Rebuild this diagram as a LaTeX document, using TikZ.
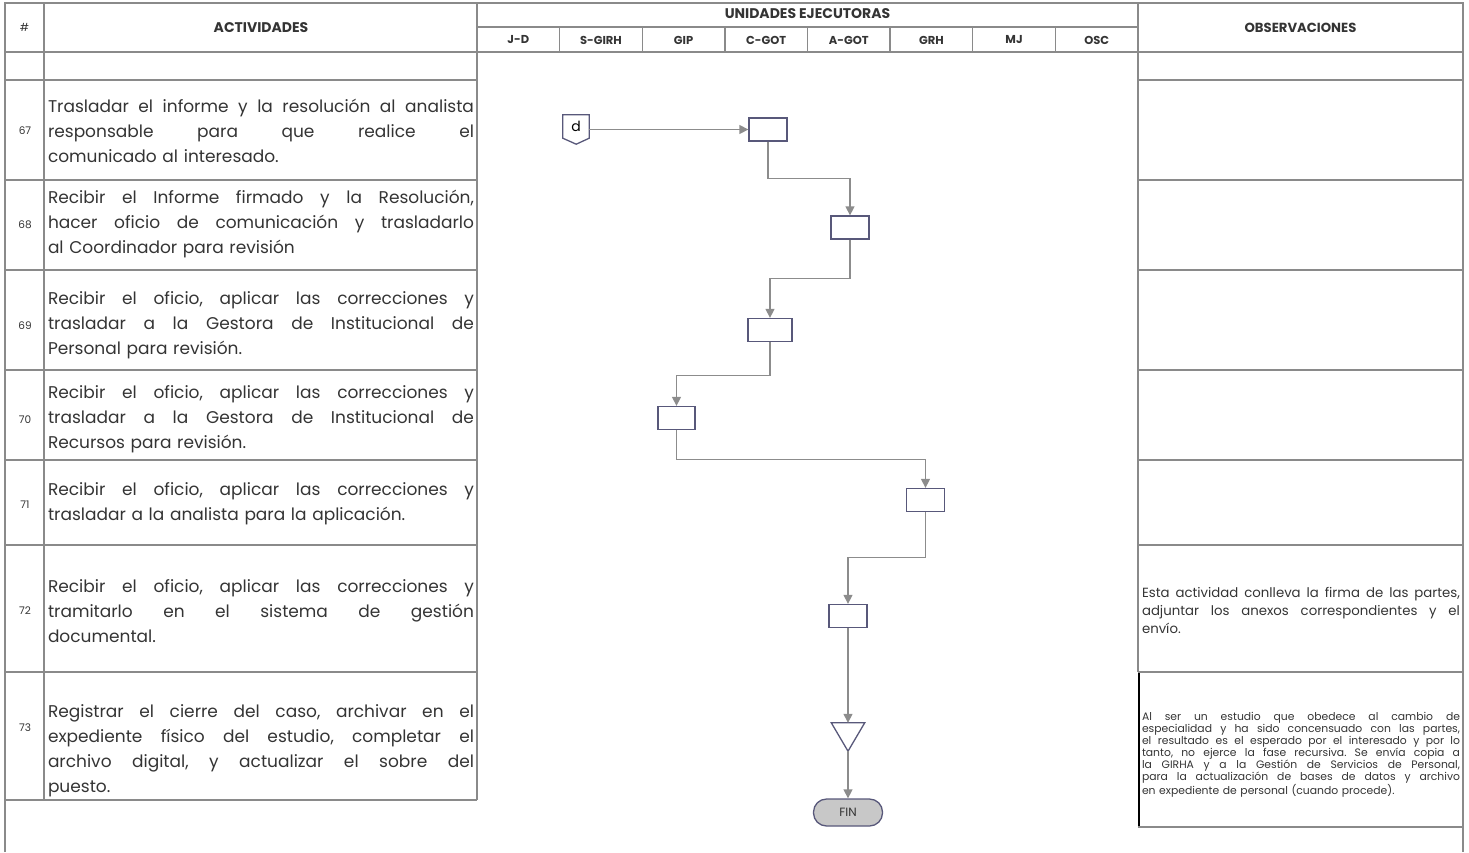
\documentclass[tikz,border=0pt]{standalone}
\usepackage{fontspec}
\setmainfont{Poppins}
\usetikzlibrary{positioning,arrows.meta,calc}
\definecolor{tablegray}{RGB}{138,138,138}
\definecolor{boxline}{RGB}{88,88,122}
\definecolor{flowgray}{RGB}{140,140,140}
\definecolor{inktext}{RGB}{52,52,52}
\definecolor{finfill}{RGB}{200,200,200}
\frenchspacing
\newcommand{\jline}[2][426pt]{\makebox[#1][s]{\spaceskip=0pt\xspaceskip=0pt #2}}

\begin{document}
\begin{tikzpicture}[
    x=1pt, y=-1pt,
    tableline/.style={draw=tablegray, line width=1.4pt},
    proc/.style={draw=boxline, line width=1.3pt, fill=white, minimum width=38pt, minimum height=23pt, inner sep=0pt},
    flow/.style={draw=flowgray, line width=1.3pt, -{Triangle[length=9pt,width=9pt]}},
    head/.style={font=\fontsize{14}{15}\selectfont\bfseries, text=inktext},
    unit/.style={font=\fontsize{11.5}{14}\selectfont\bfseries, text=inktext},
    num/.style={font=\fontsize{10.5}{12}\selectfont, text=inktext},
    activity/.style={text width=426pt, inner sep=0pt, align=left, font=\fontsize{17}{25}\selectfont, text=inktext},
    obs/.style={text width=318pt, inner sep=0pt, align=left, text=inktext}
]
\useasboundingbox (0,0) rectangle (1469,852);

% Table frame
\draw[tableline] (5,852) -- (5,3) -- (1463,3) -- (1463,852);
\draw[tableline] (5,52) -- (1463,52);
\draw[tableline] (477,27) -- (1138,27);
\draw[tableline] (5,80) -- (477,80);
\draw[tableline] (1138,80) -- (1463,80);
\draw[tableline] (44,3) -- (44,800);
\draw[tableline] (477,3) -- (477,800);
\draw[tableline] (1138,3) -- (1138,672);
\draw[black, line width=1.8pt] (1139,672) -- (1139,827);
\foreach \i in {1,...,7}
  \draw[tableline] ({477+82.625*\i},27) -- ++(0,25);
\foreach \y in {180,270,370,460,545,672} {
  \draw[tableline] (5,\y) -- (477,\y);
  \draw[tableline] (1138,\y) -- (1463,\y);
}
\draw[tableline] (5,800) -- (477,800);
\draw[tableline] (1138,827) -- (1463,827);

% Header
\node[num, font=\fontsize{11}{12}\selectfont] (hnum) at (24.5,27.5) {\#};
\node[head] (hact) at (261,27.5) {ACTIVIDADES};
\node[head, font=\fontsize{14}{15}\selectfont\bfseries] (hunits) at (807.5,14) {UNIDADES EJECUTORAS};
\node[head, font=\fontsize{13.2}{15}\selectfont\bfseries] (hobs) at (1300.5,27.5) {OBSERVACIONES};
\foreach \name [count=\i] in {J-D,S-GIRH,GIP,C-GOT,A-GOT,GRH,MJ,OSC}
  \node[unit] (u\i) at ({477+82.625*(\i-0.5)},40) {\name};

% Activities
\node[num] (n67) at (25,131) {67};
\node[activity] (a67) at (261,130.5) {\jline{Trasladar el informe y la resolución al analista}\\
\jline{responsable para que realice el}\\
comunicado al interesado.};

\node[num] (n68) at (25,225) {68};
\node[activity] (a68) at (261,224) {\jline{Recibir el Informe firmado y la Resolución,}\\
\jline{hacer oficio de comunicación y trasladarlo}\\
al Coordinador para revisión};

\node[num] (n69) at (25,326) {69};
\node[activity] (a69) at (261,325) {\jline{Recibir el oficio, aplicar las correcciones y}\\
\jline{trasladar a la Gestora de Institucional de}\\
Personal para revisión.};

\node[num] (n70) at (25,420) {70};
\node[activity] (a70) at (261,419) {\jline{Recibir el oficio, aplicar las correcciones y}\\
\jline{trasladar a la Gestora de Institucional de}\\
Recursos para revisión.};

\node[num] (n71) at (25,505) {71};
\node[activity] (a71) at (261,504) {\jline{Recibir el oficio, aplicar las correcciones y}\\
trasladar a la analista para la aplicación.};

\node[num] (n72) at (25,611) {72};
\node[activity] (a72) at (261,611) {\jline{Recibir el oficio, aplicar las correcciones y}\\
\jline{tramitarlo en el sistema de gestión}\\
documental.};

\node[num] (n73) at (25,728) {73};
\node[activity] (a73) at (261,751) {\jline{Registrar el cierre del caso, archivar en el}\\
\jline{expediente físico del estudio, completar el}\\
\jline{archivo digital, y actualizar el sobre del}\\
puesto.};

% Observations
\node[obs, font=\fontsize{13.3}{18}\selectfont] (o72) at (1301,610) {\jline[318pt]{Esta actividad conlleva la firma de las partes,}\\
\jline[318pt]{adjuntar los anexos correspondientes y el}\\
envío.};
\node[obs, font=\fontsize{10.8}{12}\selectfont] (o73) at (1301,755) {\jline[318pt]{Al ser un estudio que obedece al cambio de}\\
\jline[318pt]{especialidad y ha sido concensuado con las partes,}\\
\jline[318pt]{el resultado es el esperado por el interesado y por lo}\\
\jline[318pt]{tanto, no ejerce la fase recursiva. Se envía copia a}\\
\jline[318pt]{la GIRHA y a la Gestión de Servicios de Personal,}\\
\jline[318pt]{para la actualización de bases de datos y archivo}\\
en expediente de personal (cuando procede).};

% Flow
\node[minimum width=26pt, minimum height=23pt, inner sep=0pt, font=\fontsize{14}{14}\selectfont] (conn) at (576,126.5) {d};
\draw[draw=boxline, line width=1.3pt] (conn.north west) -- (conn.north east) -- (conn.south east) -- ++(-13,6) -- (conn.south west) -- cycle;

\node[proc] (box1) at (768,129.5) {};
\node[proc] (box2) at (850,227.5) {};
\node[proc, minimum width=44pt] (box3) at (770,330) {};
\node[proc, minimum width=37pt] (box4) at (676.5,418) {};
\node[proc] (box5) at (925.5,500) {};
\node[proc] (box6) at (848,616) {};

\node[minimum width=33pt, minimum height=28pt, inner sep=0pt] (arch) at (848,737) {};
\draw[draw=boxline, line width=1.3pt, fill=white] (arch.north west) -- (arch.north east) -- (arch.south) -- cycle;

\node[draw=boxline, fill=finfill, line width=1.3pt, rounded corners=13pt, minimum width=69pt, minimum height=27pt, inner sep=0pt, font=\fontsize{12}{14}\selectfont, text=inktext] (fin) at (848,812.5) {FIN};

\draw[flow] (conn.east |- box1.west) -- (box1.west);
\draw[flow] (box1.south) -- ++(0,37) -| (box2.north);
\draw[flow] (box2.south) -- ++(0,39) -| (box3.north);
\draw[flow] (box3.south) -- ++(0,33) -| (box4.north);
\draw[flow] (box4.south) -- ++(0,29) -| (box5.north);
\draw[flow] (box5.south) -- ++(0,45) -| (box6.north);
\draw[flow] (box6.south) -- (arch.north);
\draw[flow] (arch.south) -- (fin.north);

\end{tikzpicture}
\end{document}
